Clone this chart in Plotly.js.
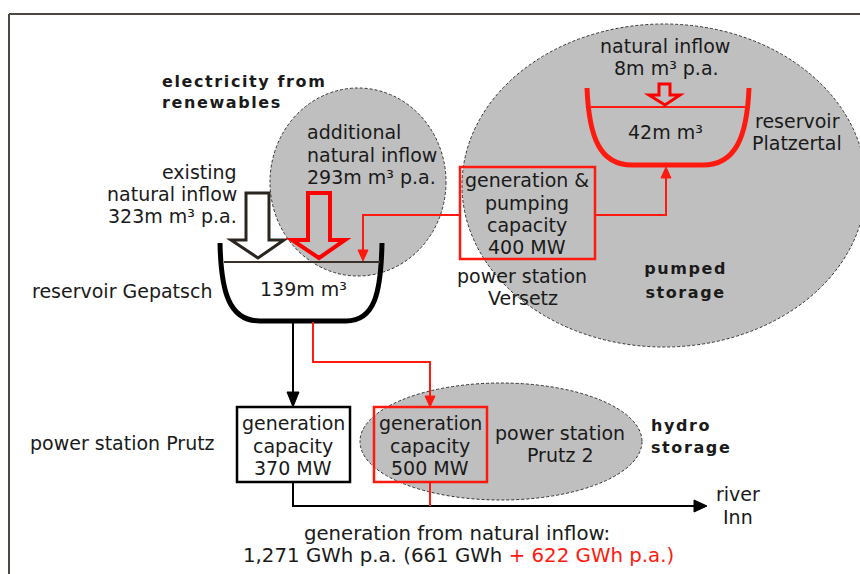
<!DOCTYPE html>
<html>
<head>
<meta charset="utf-8">
<script src="https://cdn.plot.ly/plotly-3.0.1.min.js"></script>
<style>html,body{margin:0;padding:0;background:#fff;}#chart{width:860px;height:574px;}</style>
</head>
<body>
<div id="chart"></div>
<script>
// ---- data ----
const inflowNames = ['existing natural inflow', 'additional natural inflow', 'natural inflow Platzertal'];
const inflowVolumes = [323, 293, 8];            // million m³ p.a.
const reservoirNames = ['Gepatsch', 'Platzertal'];
const reservoirVolumes = [139, 42];             // million m³
const stationNames = ['Prutz', 'Versetz', 'Prutz 2'];
const stationCapacities = [370, 400, 500];      // MW
const generationTotal = [1271];                 // GWh p.a.
const generationParts = [661, 622];             // GWh p.a. (existing + new)
const groupLabels = ['electricity from', 'renewables', 'pumped', 'storage', 'hydro', 'storage'];

// ---- styles ----
const RED = '#ff1a0f';
const INK = '#1a1a1a';
const FONT = 'DejaVu Sans, Verdana, sans-serif';
const FS = 19;

const shapes = [];
const annotations = [];
function shp(o){ o.xref='x'; o.yref='y'; shapes.push(o); }
function line(pts, color, w){
  let d = 'M ' + pts.map(p => p[0] + ' ' + p[1]).join(' L ');
  shp({type:'path', path:d, line:{color:color, width:w}, fillcolor:'rgba(0,0,0,0)'});
}
function tri(pts, color){
  shp({type:'path', path:'M ' + pts.map(p => p[0]+' '+p[1]).join(' L ') + ' Z', line:{color:color, width:1}, fillcolor:color});
}
function txt(text, x, y, opts){
  opts = opts || {};
  annotations.push({
    xref:'x', yref:'y', x:x, y:y, text:text, showarrow:false,
    xanchor: opts.anchor || 'center', yanchor:'middle', align: opts.anchor==='right'?'right':(opts.anchor==='left'?'left':'center'),
    font:{family:FONT, size: opts.size || FS, color: opts.color || INK, weight: opts.bold ? 'bold' : 'normal'}
  });
}
const fmt = n => n.toLocaleString('en-US');

// border
line([[9,14],[860,14]], '#4d4842', 2);
line([[9,14],[9,574]], '#4d4842', 2);

// grey dashed ellipses
const ellLine = {color:'#333333', width:1, dash:'3px,2px'};
shp({type:'circle', x0:462, x1:866, y0:24, y1:347, fillcolor:'#bfbfbf', line:ellLine});
shp({type:'circle', x0:270, x1:446, y0:88, y1:276, fillcolor:'#bfbfbf', line:ellLine});
shp({type:'circle', x0:360, x1:642, y0:383, y1:500, fillcolor:'#bfbfbf', line:ellLine});

// Gepatsch reservoir
shp({type:'path', path:'M 220 243 C 221 292 229 321 260 321 L 346 321 C 375 321 381 292 382 243', line:{color:'#000', width:5}, fillcolor:'rgba(0,0,0,0)'});
line([[224,262],[380,262]], '#3a3028', 2);

// Platzertal reservoir
shp({type:'path', path:'M 587 88 C 589 138 600 165 632 165 L 703 165 C 735 165 747 138 749 88', line:{color:RED, width:5}, fillcolor:'rgba(0,0,0,0)'});
line([[591,107],[745,107]], RED, 2);

// hollow inflow arrows
shp({type:'path', path:'M 246 193 L 269 193 L 269 240 L 284 240 L 258 258 L 231 240 L 246 240 Z', line:{color:'#2b2520', width:3}, fillcolor:'#ffffff'});
shp({type:'path', path:'M 308 193 L 330 193 L 330 240 L 345 240 L 319 258 L 292 240 L 308 240 Z', line:{color:'#ff0000', width:4}, fillcolor:'rgba(0,0,0,0)'});
shp({type:'path', path:'M 659 84 L 670 84 L 670 95 L 680 95 L 665 105 L 649 95 L 659 95 Z', line:{color:'#ff0000', width:3}, fillcolor:'rgba(0,0,0,0)'});

// Versetz connections
line([[460,215],[363,215],[363,252]], RED, 2);
tri([[358,250],[368,250],[363,261]], RED);
line([[595,215],[666,215],[666,176]], RED, 2);
tri([[661,178],[671,178],[666,167]], RED);

// Versetz box
shp({type:'rect', x0:460, x1:595, y0:167, y1:259, line:{color:RED, width:2.5}, fillcolor:'rgba(0,0,0,0)'});

// Gepatsch -> Prutz
line([[293,322],[293,394]], '#000', 2);
tri([[287,392],[299,392],[293,407]], '#000');
// Gepatsch -> Prutz 2
line([[313,322],[313,362],[430,362],[430,398]], RED, 2);
tri([[425,396],[435,396],[430,407]], RED);

// Prutz boxes
shp({type:'rect', x0:237, x1:350, y0:407, y1:482, line:{color:'#000', width:2.5}, fillcolor:'#ffffff'});
shp({type:'rect', x0:374, x1:487, y0:407, y1:482, line:{color:RED, width:2.5}, fillcolor:'rgba(0,0,0,0)'});

// to river Inn
line([[293,482],[293,506],[697,506]], '#000', 2);
tri([[694,500],[694,512],[707,506]], '#000');
line([[430,482],[430,506]], RED, 2);

// ---- texts ----
txt(groupLabels[0], 160, 81, {anchor:'left', bold:true, size:16});
txt(groupLabels[1], 160, 102, {anchor:'left', bold:true, size:16});

txt('existing', 239, 172, {anchor:'right'});
txt('natural inflow', 239, 194, {anchor:'right'});
txt(inflowVolumes[0] + 'm m³ p.a.', 239, 216, {anchor:'right'});

txt('additional', 305, 132, {anchor:'left'});
txt('natural inflow', 305, 155, {anchor:'left'});
txt(inflowVolumes[1] + 'm m³ p.a.', 305, 177, {anchor:'left'});

txt(reservoirVolumes[0] + 'm m³', 303, 289);
txt('reservoir ' + reservoirNames[0], 30, 291, {anchor:'left'});

txt('generation &', 527, 180);
txt('pumping', 527, 203);
txt('capacity', 527, 225);
txt(stationCapacities[1] + ' MW', 527, 247);
txt('power station', 522, 276);
txt(stationNames[1], 523, 298);

txt('natural inflow', 665, 46);
txt(inflowVolumes[2] + 'm m³ p.a.', 666, 68);
txt(reservoirVolumes[1] + 'm m³', 665, 132);
txt('reservoir', 797, 121);
txt(reservoirNames[1], 797, 143);

txt(groupLabels[2], 685, 268, {bold:true, size:16});
txt(groupLabels[3], 685, 292, {bold:true, size:16});

txt('power station ' + stationNames[0], 28, 443, {anchor:'left'});
txt('generation', 293, 423);
txt('capacity', 293, 446);
txt(stationCapacities[0] + ' MW', 293, 468);
txt('generation', 430, 423);
txt('capacity', 430, 446);
txt(stationCapacities[2] + ' MW', 430, 468);
txt('power station', 560, 433);
txt(stationNames[2], 560, 455);
txt(groupLabels[4], 649, 425, {anchor:'left', bold:true, size:16});
txt(groupLabels[5], 649, 447, {anchor:'left', bold:true, size:16});

txt('river', 738, 494);
txt('Inn', 738, 517);

txt('generation from natural inflow:', 457, 533, {size:19.7});
txt(fmt(generationTotal[0]) + ' GWh p.a. (' + generationParts[0] + ' GWh <span style="color:' + RED + '">+ ' + generationParts[1] + ' GWh p.a.)</span>', 458, 555, {size:19.8});

const layout = {
  width:860, height:574,
  margin:{l:0, r:0, t:0, b:0, pad:0},
  paper_bgcolor:'#ffffff', plot_bgcolor:'#ffffff',
  xaxis:{range:[0,860], visible:false, fixedrange:true},
  yaxis:{range:[574,0], visible:false, fixedrange:true},
  showlegend:false,
  shapes:shapes,
  annotations:annotations
};

Plotly.newPlot('chart', [{x:[], y:[], type:'scatter', mode:'markers', hoverinfo:'skip'}], layout, {staticPlot:true, displayModeBar:false}).then(() => {
  document.querySelectorAll('text.annotation-text').forEach(t => {
    const u = t.getAttribute('data-unformatted') || t.textContent;
    if (groupLabels.includes(u)) t.style.letterSpacing = '1.6px';
  });
});
</script>
</body>
</html>
